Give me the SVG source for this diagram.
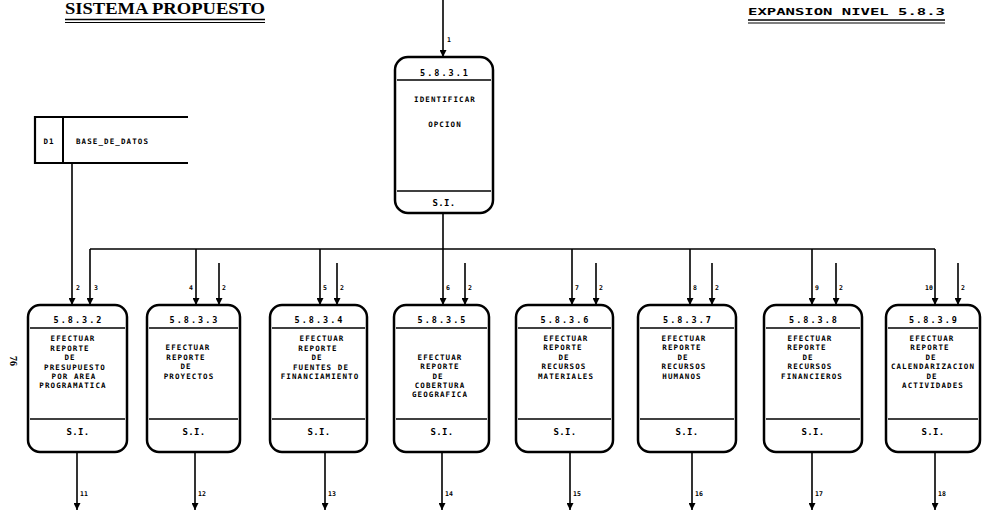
<svg xmlns="http://www.w3.org/2000/svg" width="982" height="512" viewBox="0 0 982 512">
<style>
.box{fill:#fff;stroke:#000;stroke-width:2.5}
.div{stroke:#000;stroke-width:1.6}
.ln{fill:none;stroke:#000;stroke-width:1.6}
.arr{fill:none;stroke:#000;stroke-width:1.6;marker-end:url(#ah)}
.t{font-family:"DejaVu Sans Mono","Liberation Mono",monospace;font-weight:bold;font-size:7.5px;letter-spacing:1.1px;fill:#000}
.num{font-family:"DejaVu Sans Mono","Liberation Mono",monospace;font-weight:bold;font-size:8.5px;letter-spacing:2px;fill:#000;text-anchor:middle}
.si{font-family:"DejaVu Sans Mono","Liberation Mono",monospace;font-weight:bold;font-size:9px;letter-spacing:0.3px;fill:#000;text-anchor:middle}
.lab{font-family:"DejaVu Sans Mono","Liberation Mono",monospace;font-weight:bold;font-size:6.5px;fill:#000}
.c{text-anchor:middle}
</style>
<defs>
<marker id="ah" viewBox="0 0 10 10" refX="10" refY="5" markerWidth="9" markerHeight="7" markerUnits="userSpaceOnUse" orient="auto">
<path d="M0,0 L10,5 L0,10 z" fill="#000"/>
</marker>
</defs>
<rect width="982" height="512" fill="#fff"/>

<g id="titles">
<text x="65" y="14" font-family="Liberation Serif,serif" font-weight="bold" font-size="16" textLength="200" lengthAdjust="spacingAndGlyphs">SISTEMA PROPUESTO</text>
<line x1="65" y1="19.5" x2="265" y2="19.5" stroke="#000" stroke-width="1.6"/>
<line x1="65" y1="22.5" x2="265" y2="22.5" stroke="#000" stroke-width="1.2"/>
<text x="748" y="15" font-family="DejaVu Sans Mono,Liberation Mono,monospace" font-weight="bold" font-size="9.5" textLength="197" lengthAdjust="spacingAndGlyphs">EXPANSION NIVEL 5.8.3</text>
<line x1="748" y1="20" x2="945" y2="20" stroke="#000" stroke-width="1.6"/>
<line x1="748" y1="23" x2="945" y2="23" stroke="#000" stroke-width="1.2"/>
<text transform="translate(10,356) rotate(90)" font-family="Liberation Serif,serif" font-weight="bold" font-size="10">76</text>
</g>

<g id="connectors">
<line class="arr" x1="443" y1="0" x2="443" y2="57"/>
<line class="ln" x1="443" y1="213" x2="443" y2="249"/>
<line class="ln" x1="90" y1="249" x2="935" y2="249"/>
<line class="arr" x1="72" y1="163" x2="72" y2="305"/>
<line class="arr" x1="90" y1="249" x2="90" y2="305"/>
<line class="arr" x1="196" y1="249" x2="196" y2="305"/>
<line class="arr" x1="219" y1="263" x2="219" y2="305"/>
<line class="arr" x1="320" y1="249" x2="320" y2="305"/>
<line class="arr" x1="337" y1="263" x2="337" y2="305"/>
<line class="arr" x1="443" y1="249" x2="443" y2="305"/>
<line class="arr" x1="465" y1="263" x2="465" y2="305"/>
<line class="arr" x1="572" y1="249" x2="572" y2="305"/>
<line class="arr" x1="596" y1="263" x2="596" y2="305"/>
<line class="arr" x1="690" y1="249" x2="690" y2="305"/>
<line class="arr" x1="712" y1="263" x2="712" y2="305"/>
<line class="arr" x1="812" y1="249" x2="812" y2="305"/>
<line class="arr" x1="836" y1="263" x2="836" y2="305"/>
<line class="arr" x1="935" y1="249" x2="935" y2="305"/>
<line class="arr" x1="958" y1="263" x2="958" y2="305"/>
<line class="arr" x1="77" y1="452" x2="77" y2="510"/>
<line class="arr" x1="195" y1="452" x2="195" y2="510"/>
<line class="arr" x1="325" y1="452" x2="325" y2="510"/>
<line class="arr" x1="442" y1="452" x2="442" y2="510"/>
<line class="arr" x1="570" y1="452" x2="570" y2="510"/>
<line class="arr" x1="692" y1="452" x2="692" y2="510"/>
<line class="arr" x1="812" y1="452" x2="812" y2="510"/>
<line class="arr" x1="935" y1="452" x2="935" y2="510"/>
<text class="lab" x="447" y="42">1</text>
<text class="lab" x="76" y="290">2</text>
<text class="lab" x="94" y="290">3</text>
<text class="lab" x="189" y="290">4</text>
<text class="lab" x="222" y="290">2</text>
<text class="lab" x="323" y="290">5</text>
<text class="lab" x="340" y="290">2</text>
<text class="lab" x="446" y="290">6</text>
<text class="lab" x="468" y="290">2</text>
<text class="lab" x="575" y="290">7</text>
<text class="lab" x="599" y="290">2</text>
<text class="lab" x="693" y="290">8</text>
<text class="lab" x="715" y="290">2</text>
<text class="lab" x="815" y="290">9</text>
<text class="lab" x="839" y="290">2</text>
<text class="lab" x="925" y="290">10</text>
<text class="lab" x="961" y="290">2</text>
<text class="lab" x="80" y="496">11</text>
<text class="lab" x="198" y="496">12</text>
<text class="lab" x="328" y="496">13</text>
<text class="lab" x="445" y="496">14</text>
<text class="lab" x="573" y="496">15</text>
<text class="lab" x="695" y="496">16</text>
<text class="lab" x="815" y="496">17</text>
<text class="lab" x="938" y="496">18</text>
</g>

<g id="D1">
<path d="M188,117 H35 V163 H188" fill="none" stroke="#000" stroke-width="2.2"/>
<line x1="63" y1="117" x2="63" y2="163" stroke="#000" stroke-width="2"/>
<text class="t c" x="49" y="144">D1</text>
<text class="t" x="76" y="144">BASE_DE_DATOS</text>
</g>

<g id="p5831">
<rect class="box" x="395" y="57" width="98" height="156" rx="13"/>
<line class="div" x1="397" y1="80" x2="491" y2="80"/>
<line class="div" x1="397" y1="191" x2="491" y2="191"/>
<text class="num" x="445" y="76">5.8.3.1</text>
<text class="t c" x="445" y="102">IDENTIFICAR</text>
<text class="t c" x="445" y="127">OPCION</text>
<text class="si" x="444" y="206">S.I.</text>
</g>

<g id="p5832">
<rect class="box" x="28" y="305" width="99" height="147" rx="12"/>
<line class="div" x1="30" y1="328" x2="125" y2="328"/>
<line class="div" x1="30" y1="419" x2="125" y2="419"/>
<text class="num" x="78.5" y="323">5.8.3.2</text>
<text class="t c" x="73" y="341">EFECTUAR</text>
<text class="t c" x="70" y="351">REPORTE</text>
<text class="t c" x="70" y="360">DE</text>
<text class="t c" x="75" y="370">PRESUPUESTO</text>
<text class="t c" x="74" y="379">POR AREA</text>
<text class="t c" x="73" y="388">PROGRAMATICA</text>
<text class="si" x="78" y="435">S.I.</text>
</g>

<g id="p5833">
<rect class="box" x="147" y="305" width="93" height="147" rx="12"/>
<line class="div" x1="149" y1="328" x2="238" y2="328"/>
<line class="div" x1="149" y1="419" x2="238" y2="419"/>
<text class="num" x="194.5" y="323">5.8.3.3</text>
<text class="t c" x="188" y="350">EFECTUAR</text>
<text class="t c" x="186" y="360">REPORTE</text>
<text class="t c" x="186" y="369">DE</text>
<text class="t c" x="189" y="379">PROYECTOS</text>
<text class="si" x="194" y="435">S.I.</text>
</g>

<g id="p5834">
<rect class="box" x="270" y="305" width="97" height="147" rx="12"/>
<line class="div" x1="272" y1="328" x2="365" y2="328"/>
<line class="div" x1="272" y1="419" x2="365" y2="419"/>
<text class="num" x="319.5" y="323">5.8.3.4</text>
<text class="t c" x="322" y="341">EFECTUAR</text>
<text class="t c" x="318" y="351">REPORTE</text>
<text class="t c" x="317" y="360">DE</text>
<text class="t c" x="321" y="370">FUENTES DE</text>
<text class="t c" x="320" y="379">FINANCIAMIENTO</text>
<text class="si" x="319" y="435">S.I.</text>
</g>

<g id="p5835">
<rect class="box" x="394" y="305" width="95" height="147" rx="12"/>
<line class="div" x1="396" y1="328" x2="487" y2="328"/>
<line class="div" x1="396" y1="419" x2="487" y2="419"/>
<text class="num" x="442.5" y="323">5.8.3.5</text>
<text class="t c" x="440" y="360">EFECTUAR</text>
<text class="t c" x="440" y="369">REPORTE</text>
<text class="t c" x="438" y="379">DE</text>
<text class="t c" x="440" y="388">COBERTURA</text>
<text class="t c" x="440" y="397">GEOGRAFICA</text>
<text class="si" x="442" y="435">S.I.</text>
</g>

<g id="p5836">
<rect class="box" x="516" y="305" width="97" height="147" rx="12"/>
<line class="div" x1="518" y1="328" x2="611" y2="328"/>
<line class="div" x1="518" y1="419" x2="611" y2="419"/>
<text class="num" x="565.5" y="323">5.8.3.6</text>
<text class="t c" x="566" y="341">EFECTUAR</text>
<text class="t c" x="563" y="350">REPORTE</text>
<text class="t c" x="564" y="360">DE</text>
<text class="t c" x="564" y="369">RECURSOS</text>
<text class="t c" x="566" y="379">MATERIALES</text>
<text class="si" x="565" y="435">S.I.</text>
</g>

<g id="p5837">
<rect class="box" x="638" y="305" width="98" height="147" rx="12"/>
<line class="div" x1="640" y1="328" x2="734" y2="328"/>
<line class="div" x1="640" y1="419" x2="734" y2="419"/>
<text class="num" x="688" y="323">5.8.3.7</text>
<text class="t c" x="684" y="341">EFECTUAR</text>
<text class="t c" x="682" y="350">REPORTE</text>
<text class="t c" x="683" y="360">DE</text>
<text class="t c" x="684" y="369">RECURSOS</text>
<text class="t c" x="682" y="379">HUMANOS</text>
<text class="si" x="687" y="435">S.I.</text>
</g>

<g id="p5838">
<rect class="box" x="764" y="305" width="98" height="147" rx="12"/>
<line class="div" x1="766" y1="328" x2="860" y2="328"/>
<line class="div" x1="766" y1="419" x2="860" y2="419"/>
<text class="num" x="814" y="323">5.8.3.8</text>
<text class="t c" x="810" y="341">EFECTUAR</text>
<text class="t c" x="807" y="350">REPORTE</text>
<text class="t c" x="808" y="360">DE</text>
<text class="t c" x="810" y="369">RECURSOS</text>
<text class="t c" x="812" y="379">FINANCIEROS</text>
<text class="si" x="813" y="435">S.I.</text>
</g>

<g id="p5839">
<rect class="box" x="886" y="305" width="94" height="147" rx="12"/>
<line class="div" x1="888" y1="328" x2="978" y2="328"/>
<line class="div" x1="888" y1="419" x2="978" y2="419"/>
<text class="num" x="934" y="323">5.8.3.9</text>
<text class="t c" x="932" y="341">EFECTUAR</text>
<text class="t c" x="930" y="350">REPORTE</text>
<text class="t c" x="931" y="360">DE</text>
<text class="t c" x="933" y="369">CALENDARIZACION</text>
<text class="t c" x="932" y="379">DE</text>
<text class="t c" x="933" y="388">ACTIVIDADES</text>
<text class="si" x="933" y="435">S.I.</text>
</g>
</svg>
